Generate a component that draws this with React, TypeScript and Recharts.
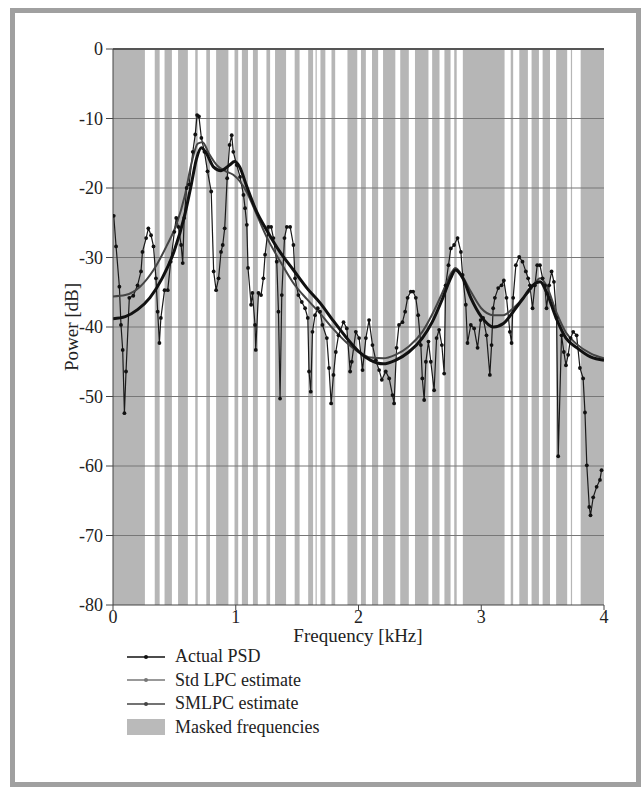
import React from "react";
import { ComposedChart, Line, XAxis, YAxis, ReferenceArea, ReferenceLine } from "recharts";

const FONT = "Liberation Serif";

// Actual PSD, points (kHz, dB)
const psdFreq = [
  0.006, 0.025, 0.052, 0.065, 0.079, 0.093, 0.106, 0.133, 0.165, 0.2, 0.228, 0.24, 0.27, 0.288, 0.31,
  0.33, 0.35, 0.364, 0.378, 0.39, 0.42, 0.446, 0.47, 0.5, 0.515, 0.533, 0.555, 0.568, 0.58, 0.6, 0.62,
  0.65, 0.67, 0.685, 0.7, 0.72, 0.745, 0.77, 0.8, 0.82, 0.84, 0.86, 0.88, 0.894, 0.91, 0.93, 0.95,
  0.967, 0.98, 1.008, 1.035, 1.063, 1.076, 1.09, 1.1, 1.125, 1.136, 1.157, 1.163, 1.185, 1.206,
  1.225, 1.239, 1.266, 1.288, 1.307, 1.334, 1.348, 1.361, 1.375, 1.397, 1.416, 1.443, 1.47, 1.483,
  1.51, 1.538, 1.565, 1.587, 1.597, 1.611, 1.625, 1.646, 1.668, 1.687, 1.706, 1.742, 1.76, 1.777,
  1.796, 1.815, 1.837, 1.878, 1.905, 1.932, 1.945, 1.978, 2.005, 2.033, 2.06, 2.086, 2.114, 2.141,
  2.168, 2.19, 2.222, 2.25, 2.277, 2.29, 2.31, 2.33, 2.358, 2.38, 2.4, 2.426, 2.445, 2.467, 2.486,
  2.508, 2.52, 2.535, 2.549, 2.57, 2.589, 2.616, 2.636, 2.657, 2.679, 2.698, 2.71, 2.733, 2.752,
  2.779, 2.807, 2.834, 2.848, 2.874, 2.888, 2.915, 2.942, 2.97, 2.995, 3.015, 3.043, 3.07, 3.084,
  3.097, 3.111, 3.138, 3.165, 3.184, 3.206, 3.233, 3.247, 3.26, 3.282, 3.309, 3.336, 3.363, 3.382,
  3.396, 3.418, 3.437, 3.456, 3.478, 3.5, 3.518, 3.532, 3.553, 3.573, 3.592, 3.614, 3.627, 3.654,
  3.673, 3.69, 3.708, 3.728, 3.749, 3.777, 3.804, 3.83, 3.845, 3.86, 3.88, 3.89, 3.912, 3.94, 3.967,
  3.98,
];
const psdDb = [
  -24, -28.4, -34.2, -39.7, -43.3, -52.4, -46.4, -35.8, -35.5, -34, -32, -29.2, -27.2, -25.8, -26.8,
  -28.4, -33, -37.8, -42.3, -38.7, -34.7, -34.7, -30.6, -26.3, -24.3, -25.6, -28.2, -30.8, -24.3, -20, -19.5,
  -14.8, -12.3, -9.5, -9.7, -12.8, -14.8, -17.6, -20.5, -32, -34.7, -33, -29.2, -28.2, -25.8, -18.6, -13.8,
  -12.4, -14.8, -16.7, -18.4, -21, -22.9, -25.3, -31.5, -36.8, -35.1, -39.7, -43.3, -35.1, -35.4,
  -33, -29.6, -25.6, -25.6, -27.2, -30.6, -37.8, -50.3, -35.4, -27.2, -25.6, -25.6, -28.2, -33,
  -35.4, -36.4, -37.3, -38.7, -46.4, -49.3, -40.7, -38.3, -37.3, -37.8, -39.7, -41.6, -45.9, -51,
  -46.9, -43.6, -41.2, -39.3, -40.2, -46.4, -45, -40.7, -41.6, -46.2, -41.6, -39, -42.6, -44.8,
  -46.2, -47.6, -46.4, -47.4, -49.8, -51, -43, -39.7, -39.3, -37.8, -35.8, -34.9, -34.9, -35.8, -38.3,
  -42.6, -47.4, -50.5, -45, -42.1, -45, -49.1, -41.6, -40.4, -42.6, -46.7, -34, -31.1, -28.7,
  -28.2, -27.2, -29.2, -32.5, -36.8, -42.3, -39.7, -40.2, -43, -39, -38.7, -41.2, -46.9, -42.6,
  -37.3, -35.8, -34.4, -34, -33.3, -35.8, -40.7, -42.3, -35.8, -31.1, -29.9, -30.6, -32, -33,
  -34, -37.3, -34, -31.1, -31.1, -33, -34, -37.3, -34, -32, -33.5, -38.7, -58.6, -41.2,
  -43.6, -45.5, -44, -41.6, -40.7, -41.2, -45.9, -47.4, -52.3, -59.9, -65.9, -67.1, -64.5, -63, -62,
  -60.6,
];

// Std LPC estimate
const stdFreq = [
  0, 0.1, 0.22, 0.33, 0.435, 0.52, 0.584, 0.64, 0.69, 0.73, 0.78, 0.85, 0.92, 0.98, 1.09, 1.17, 1.25,
  1.36, 1.47, 1.58, 1.685, 1.79, 1.9, 2.0, 2.1, 2.2, 2.3, 2.41, 2.52, 2.6, 2.685, 2.75, 2.79, 2.85,
  2.915, 3.0, 3.1, 3.18, 3.26, 3.39, 3.48, 3.53, 3.61, 3.69, 3.78, 3.89, 4.0,
];
const stdDb = [
  -35.6, -35.4, -34.2, -31.8, -28.4, -25.1, -21.2, -16.4, -13.6, -13.4, -15, -16.8, -17.6, -18.1, -20.6, -23.8, -27,
  -30.5, -33.7, -36, -38, -40.2, -42.2, -43.6, -44.4, -44.5, -44, -42.8, -40.7, -38.2, -35, -32.4, -31.5, -32.8,
  -34.9, -37.3, -38.3, -38.3, -37.3, -34.9, -33, -34, -37.8, -40.8, -42.5, -43.8, -44.5,
];

// SMLPC estimate
const smlpcFreq = [
  0, 0.1, 0.2, 0.3, 0.4, 0.5, 0.58, 0.64, 0.68, 0.72, 0.76, 0.82, 0.88, 0.95, 0.99, 1.03, 1.09, 1.17,
  1.25, 1.36, 1.47, 1.58, 1.69, 1.79, 1.9, 2.0, 2.1, 2.2, 2.3, 2.41, 2.52, 2.6, 2.685, 2.75, 2.79, 2.85,
  2.915, 3.0, 3.1, 3.18, 3.26, 3.34, 3.42, 3.48, 3.53, 3.61, 3.69, 3.78, 3.89, 4.0,
];
const smlpcDb = [
  -38.8, -38.5, -37.5, -35.8, -33, -29, -24.2, -19.3, -15.8, -14.2, -15, -17, -17.5, -16.7, -16.2, -16.9, -19.8, -23.4,
  -26, -29.2, -31.8, -34.4, -36.6, -39, -41.5, -43.5, -44.8, -45.3, -44.8, -43.6, -41.6, -39.3, -35.9, -33, -31.8, -33,
  -35.8, -38.5, -40, -39.5, -37.8, -35.9, -34, -33.5, -34.9, -38.7, -41.6, -43, -44.3, -44.8,
];

// Masked frequency bands (kHz)
const maskedBands: [number, number][] = [
  [0, 0.26], [0.34, 0.38], [0.42, 0.48], [0.53, 0.61], [0.67, 0.69], [0.76, 0.79], [0.84, 0.94],
  [0.99, 1.02], [1.05, 1.1], [1.14, 1.18], [1.25, 1.28], [1.32, 1.41], [1.48, 1.52], [1.59, 1.63],
  [1.65, 1.66], [1.69, 1.73], [1.78, 1.81], [1.91, 1.99], [2.02, 2.06], [2.11, 2.16], [2.2, 2.3],
  [2.34, 2.41], [2.46, 2.57], [2.6, 2.66], [2.7, 2.75], [2.78, 2.8], [2.85, 3.19], [3.24, 3.26],
  [3.31, 3.38], [3.41, 3.47], [3.5, 3.56], [3.61, 3.7], [3.73, 3.74], [3.81, 4.0],
];

const xTicks = [0, 1, 2, 3, 4];
const yTicks = [-80, -70, -60, -50, -40, -30, -20, -10, 0];

const zip = (fs: number[], vs: number[]) => fs.map((f, i) => ({ f, v: vs[i] }));

const psdData = zip(psdFreq, psdDb);
const stdData = zip(stdFreq, stdDb);
const smlpcData = zip(smlpcFreq, smlpcDb);

const tickStyle = { fill: "#222", fontSize: 18, fontFamily: FONT };

function LegendRow({ label, color, marker, swatch }: { label: string; color: string; marker?: boolean; swatch?: boolean }) {
  return (
    <div style={{ display: "flex", alignItems: "center", height: 23.5 }}>
      <svg width={40} height={16} style={{ marginRight: 9 }}>
        {swatch ? (
          <rect x={1} y={0} width={38} height={16} fill="#bababa" />
        ) : (
          <>
            <line x1={1} y1={8} x2={39} y2={8} stroke={color} strokeWidth={1.6} />
            {marker && <circle cx={20} cy={8} r={2} fill={color} />}
          </>
        )}
      </svg>
      <span>{label}</span>
    </div>
  );
}

export default function App() {
  return (
    <div style={{ position: "absolute", left: 0, top: 0, width: 644, height: 789, background: "#fff", fontFamily: FONT }}>
      <div
        style={{
          position: "absolute",
          left: 10,
          top: 8,
          width: 631,
          height: 779,
          border: "5px solid #a0a0a0",
          boxSizing: "border-box",
        }}
      />
      <div style={{ position: "absolute", left: 0, top: 0, fontFamily: FONT }}>
        <ComposedChart
          width={644}
          height={789}
          margin={{ top: 49, right: 40, bottom: 154, left: 53 }}
          style={{ fontFamily: FONT }}
        >
          <XAxis
            type="number"
            dataKey="f"
            domain={[0, 4]}
            ticks={xTicks}
            allowDataOverflow
            height={30}
            tickSize={5}
            tickMargin={0}
            axisLine={{ stroke: "#444" }}
            tickLine={{ stroke: "#444" }}
            tick={tickStyle}
          />
          <YAxis
            type="number"
            domain={[-80, 0]}
            ticks={yTicks}
            allowDataOverflow
            width={60}
            tickSize={7}
            tickMargin={3}
            axisLine={{ stroke: "#444" }}
            tickLine={{ stroke: "#444" }}
            tick={tickStyle}
          />
          {maskedBands.map(([a, b]) => (
            <ReferenceArea key={a} x1={a} x2={b} fill="#b6b6b6" fillOpacity={1} stroke="none" />
          ))}
          {yTicks
            .filter((t) => t > -80)
            .map((t) => (
              <ReferenceLine key={t} y={t} stroke={t === 0 ? "#555" : "#777"} strokeWidth={t === 0 ? 2 : 1} />
            ))}
          <Line
            data={psdData}
            dataKey="v"
            type="linear"
            stroke="#1a1a1a"
            strokeWidth={1.2}
            dot={{ r: 1.9, fill: "#111", stroke: "none" }}
            isAnimationActive={false}
          />
          <Line data={stdData} dataKey="v" type="monotone" stroke="#444" strokeWidth={2} dot={false} isAnimationActive={false} />
          <Line data={smlpcData} dataKey="v" type="monotone" stroke="#111" strokeWidth={3} dot={false} isAnimationActive={false} />
        </ComposedChart>
      </div>
      <div
        style={{
          position: "absolute",
          left: 72,
          top: 327,
          transform: "translate(-50%, -50%) rotate(-90deg)",
          fontSize: 19,
          color: "#222",
          whiteSpace: "nowrap",
        }}
      >
        Power [dB]
      </div>
      <div
        style={{
          position: "absolute",
          left: 358,
          top: 636,
          transform: "translate(-50%, -50%)",
          fontSize: 19,
          color: "#222",
          whiteSpace: "nowrap",
        }}
      >
        Frequency [kHz]
      </div>
      <div style={{ position: "absolute", left: 126, top: 645, fontSize: 18, color: "#222" }}>
        <LegendRow label="Actual PSD" color="#111" marker />
        <LegendRow label="Std LPC estimate" color="#777" marker />
        <LegendRow label="SMLPC estimate" color="#444" marker />
        <LegendRow label="Masked frequencies" color="#bababa" swatch />
      </div>
    </div>
  );
}
